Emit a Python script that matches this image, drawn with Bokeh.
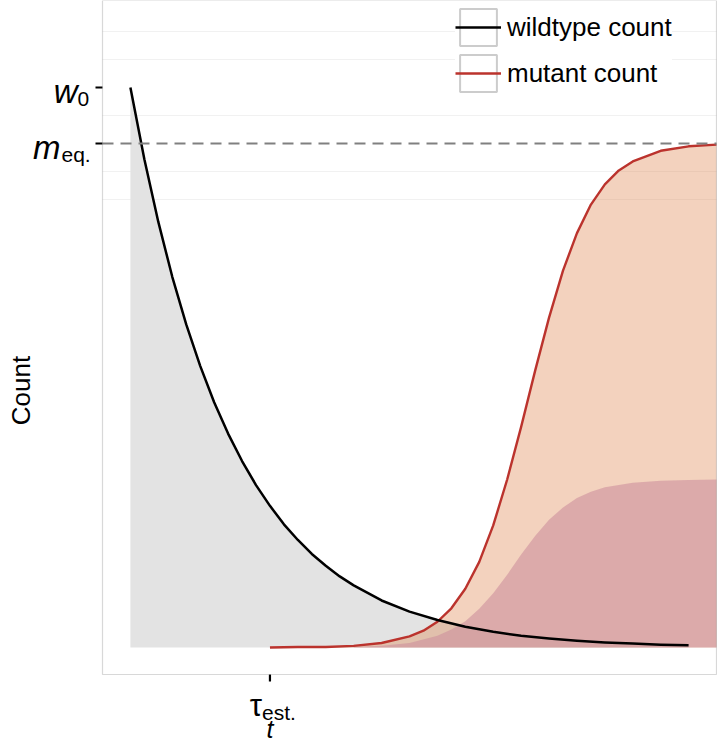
import math
from bokeh.plotting import figure
from bokeh.models import Range1d, Label, Legend, LegendItem, BoxAnnotation
from bokeh.embed import file_html
from bokeh.resources import INLINE

# ---------------- data ----------------
t_wild = [0.0, 0.25, 0.5, 0.75, 1.0, 1.25, 1.5, 1.75, 2.0, 2.25, 2.5, 2.75, 3.0, 3.25, 3.5,
          3.75, 4.0, 4.5, 5.0, 5.5, 6.0, 6.5, 7.0, 7.5, 8.0, 8.5, 9.0, 9.5, 10.0]
wildtype = [1.000, 0.872, 0.760, 0.662, 0.577, 0.503, 0.438, 0.382, 0.333, 0.290, 0.253, 0.220,
            0.192, 0.167, 0.146, 0.127, 0.111, 0.084, 0.064, 0.049, 0.037, 0.028, 0.021,
            0.016, 0.012, 0.009, 0.007, 0.005, 0.004]

t_mut = [2.5, 3.0, 3.5, 4.0, 4.5, 5.0, 5.25, 5.5, 5.75, 6.0, 6.25, 6.5, 6.75, 7.0, 7.25,
         7.5, 7.75, 8.0, 8.25, 8.5, 8.75, 9.0, 9.5, 10.0, 10.5]
mutant = [0.000, 0.001, 0.001, 0.003, 0.008, 0.020, 0.030, 0.046, 0.070, 0.105, 0.153,
          0.218, 0.300, 0.394, 0.494, 0.589, 0.673, 0.740, 0.791, 0.827, 0.852, 0.868,
          0.887, 0.895, 0.898]

t_estab = [4.0, 4.5, 5.0, 5.5, 5.75, 6.0, 6.25, 6.5, 6.75, 7.0, 7.25, 7.5, 7.75, 8.0,
           8.25, 8.5, 9.0, 9.5, 10.0, 10.5]
established = [0.001, 0.003, 0.008, 0.021, 0.032, 0.047, 0.069, 0.097, 0.130, 0.166,
               0.199, 0.228, 0.250, 0.267, 0.278, 0.286, 0.294, 0.298, 0.299, 0.300]

w0 = 1.0
m_eq = 0.9
tau_est = 2.5
y_ticks = [m_eq, w0]
x_ticks = [tau_est]
grid_vals = [0.80, 0.85, 0.95, 1.05, 1.10]
series_labels = ["wildtype count", "mutant count"]

# ---------------- layout (panel drawn inside a full-canvas frame) ----------------
W, H = 717, 744
xlo, xhi = -0.5, 10.5          # panel extent in data units
ylo, yhi = -0.0482, 1.1554
PANEL_L, PANEL_R = 102, 716     # panel pixel edges
PANEL_T, PANEL_B = 0, 674
xpx = (PANEL_R - PANEL_L) / (xhi - xlo)
ypx = (PANEL_B - PANEL_T) / (yhi - ylo)
x_range = Range1d(xlo - PANEL_L / xpx, xhi + (W - PANEL_R) / xpx)
y_range = Range1d(ylo - (H - PANEL_B) / ypx, yhi + PANEL_T / ypx)
FONT = "Liberation Sans"
TICK = 7

p = figure(width=W, height=H, x_range=x_range, y_range=y_range,
           x_axis_type=None, y_axis_type=None,
           output_backend="svg", toolbar_location=None, title=None,
           min_border=0)
p.background_fill_color = "white"
p.border_fill_color = "white"
p.outline_line_color = None
p.grid.visible = False

# faint grid lines inside the panel
p.segment(x0=[xlo] * len(grid_vals), x1=[xhi] * len(grid_vals), y0=grid_vals, y1=grid_vals,
          line_color="#f1f1f1", line_width=1)

# areas
p.varea(x=t_wild, y1=0, y2=wildtype, fill_color="#e3e3e3", fill_alpha=1.0)
p.varea(x=t_mut, y1=0, y2=mutant, fill_color="#dd7e45", fill_alpha=0.35)
p.varea(x=t_estab, y1=0, y2=established, fill_color="#cd8f9d", fill_alpha=0.6)

# lines
ml = p.line(t_mut, mutant, line_color="#bb332d", line_width=2.4, line_join="round")
wl = p.line(t_wild, wildtype, line_color="black", line_width=2.5, line_join="round")

# equilibrium dashed line across the panel
p.segment(x0=[xlo], x1=[xhi], y0=[m_eq], y1=[m_eq], line_color="#808080",
          line_width=2, line_dash="11 7")

# panel border
p.add_layout(BoxAnnotation(left=xlo, right=xhi, bottom=ylo, top=yhi, fill_alpha=0,
                           line_color="#7f7f7f", line_width=1.2, level="overlay"))

# tick marks
p.segment(x0=[xlo] * len(y_ticks), x1=[xlo - TICK / xpx] * len(y_ticks), y0=y_ticks, y1=y_ticks,
          line_color="black", line_width=2.2)
p.segment(x0=x_ticks, x1=x_ticks, y0=[ylo] * len(x_ticks), y1=[ylo - TICK / ypx] * len(x_ticks),
          line_color="black", line_width=2.2)

# legend key box (renderer only used for the legend key)
box = p.rect(x=[float("nan")], y=[float("nan")], width=1, height=1, fill_color="white",
             line_color="#cccccc", line_width=2)

leg_h = 92
legend = Legend(items=[LegendItem(label=series_labels[0], renderers=[box, wl]),
                       LegendItem(label=series_labels[1], renderers=[box, ml])],
                location=(455, H - 4 - leg_h), glyph_width=46, glyph_height=46,
                label_standoff=6, padding=0, spacing=0, margin=0, border_line_color=None,
                background_fill_color="white", background_fill_alpha=1.0,
                label_text_font=FONT, label_text_font_size="26px", label_text_color="black")
p.add_layout(legend)


def lab(text, x, y, xo, yo, size, style="normal", align="left", baseline="alphabetic", angle=0.0):
    p.add_layout(Label(x=x, y=y, x_offset=xo, y_offset=yo, text=text, text_font=FONT,
                       text_font_size=f"{size}px", text_font_style=style, text_align=align,
                       text_baseline=baseline, angle=angle, text_color="black"))


# y tick labels
lab("w", xlo, w0, -25, -4, 33, "italic", "right")
lab("0", xlo, w0, -25, -11, 21, "normal", "left")
lab("m", xlo, m_eq, -42, -4, 33, "italic", "right")
lab("eq.", xlo, m_eq, -41, -11, 21, "normal", "left")
# x tick label
lab("\u03c4", tau_est, ylo, -8, -31, 31, "normal", "right")
lab("est.", tau_est, ylo, -8, -38, 21, "normal", "left")
# axis titles
lab("t", tau_est, ylo, 0, -54, 25, "italic", "center", "middle")
lab("Count", xlo, 0.459, -82, 0, 26, "normal", "center", "middle", math.pi / 2)

open("out.html", "w").write(file_html(p, INLINE))
